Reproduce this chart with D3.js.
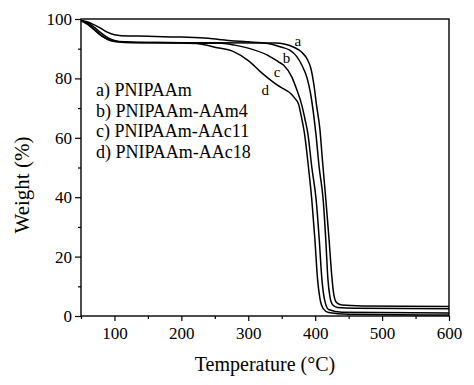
<!DOCTYPE html>
<html><head><meta charset="utf-8">
<script src="https://cdn.jsdelivr.net/npm/d3@7"></script>
<style>body{margin:0;background:#fff}svg{display:block}text{font-family:"Liberation Serif","Times New Roman",serif;fill:#000}</style>
</head><body><svg id="c" width="474" height="385"></svg>
<script>
const xTicks = [100, 200, 300, 400, 500, 600];
const yTicks = [0, 20, 40, 60, 80, 100];
const legendLabels = ["a) PNIPAAm", "b) PNIPAAm-AAm4", "c) PNIPAAm-AAc11", "d) PNIPAAm-AAc18"];
const curveNames = ["a", "b", "c", "d"];
const seriesA = [[50,99.5],[60,98.7],[70,97.2],[80,95.3],[90,93.7],[100,92.8],[115,92.3],[150,92.1],[250,92],[340,91.9],[355,91.5],[368,90.5],[380,88.8],[388,86.5],[394,83],[398,78],[402,71],[407,63],[411,52],[416,39],[421,25],[425,13],[428,7],[432,4.5],[440,3.7],[470,3.4],[600,3.2]];
const seriesB = [[50,99.5],[60,99],[70,98],[80,96.8],[90,95.5],[100,94.7],[110,94.4],[150,94.2],[200,93.9],[240,93.5],[270,92.8],[300,92.3],[320,92],[335,91.5],[350,90.5],[362,89.5],[372,87.5],[380,84.5],[388,80],[393,75],[397,69],[401,61.5],[406,50],[412,39],[416,25],[419,12.5],[422,6.5],[426,3.8],[433,2.9],[460,2.6],[600,2.4]];
const seriesC = [[50,99.5],[60,98.3],[70,96.5],[80,94.6],[90,93.2],[100,92.5],[115,92.2],[200,92],[260,91.8],[280,91.2],[300,90.2],[328,87.9],[345,85.6],[353,84.4],[365,80.5],[372,76.5],[380,71],[385,66],[389,61.5],[395,50],[401.5,39],[406,26],[410,12.5],[414,5.5],[420,2.2],[440,1.3],[600,1.0]];
const seriesD = [[50,99.5],[60,98.2],[70,96.3],[80,94.4],[90,93.1],[100,92.4],[115,92.1],[200,91.9],[228,91.6],[250,90.5],[278,89],[300,86],[318,82.3],[330,80],[343,77.8],[355,76.2],[363,75],[370,73.2],[375,71.5],[379,67.5],[384,61.5],[390,50],[395,39],[399.5,26],[403.5,12.5],[407,6],[412,2.5],[420,1.2],[450,0.6],[600,0.3]];
const series = [seriesA, seriesB, seriesC, seriesD];
const labelPos = [[374,92.6],[357,87],[343,82.2],[325.5,76]];

const svg = d3.select("#c");
const m = {l:81, t:19, r:449, b:316};
const x = d3.scaleLinear().domain([50,600]).range([m.l, m.r]);
const y = d3.scaleLinear().domain([0,100]).range([m.b, m.t]);

const xMinor = d3.range(50, 601, 50).filter(v => v % 100 !== 0);
const yMinor = d3.range(10, 100, 20);

svg.append("g").attr("transform",`translate(0,${m.b})`)
  .call(d3.axisBottom(x).tickValues(xMinor).tickSize(3).tickFormat(""))
  .call(g=>g.select(".domain").remove());
svg.append("g").attr("transform",`translate(${m.l},0)`)
  .call(d3.axisLeft(y).tickValues(yMinor).tickSize(3).tickFormat(""))
  .call(g=>g.select(".domain").remove());

const gx = svg.append("g").attr("transform",`translate(0,${m.b})`)
  .call(d3.axisBottom(x).tickValues(xTicks).tickSize(5).tickPadding(6).tickFormat(d3.format("d")));
gx.select(".domain").remove();
gx.selectAll("text").attr("font-size",17).style("font-family","Liberation Serif");
const gy = svg.append("g").attr("transform",`translate(${m.l},0)`)
  .call(d3.axisLeft(y).tickValues(yTicks).tickSize(6).tickPadding(3).tickFormat(d3.format("d")));
gy.select(".domain").remove();
gy.selectAll("text").attr("font-size",17).style("font-family","Liberation Serif");
svg.selectAll(".tick line").attr("stroke","#000").attr("stroke-width",1.2);

svg.append("rect").attr("x",m.l).attr("y",m.t).attr("width",m.r-m.l).attr("height",m.b-m.t)
  .attr("fill","none").attr("stroke","#000").attr("stroke-width",1.4);

const line = d3.line().x(d=>x(d[0])).y(d=>y(d[1])).curve(d3.curveMonotoneX);
svg.append("g").selectAll("path").data(series).join("path")
  .attr("d", line).attr("fill","none").attr("stroke","#000").attr("stroke-width",1.5);

svg.append("g").selectAll("text").data(curveNames).join("text")
  .attr("x",(d,i)=>x(labelPos[i][0])).attr("y",(d,i)=>y(labelPos[i][1]))
  .attr("font-size",15).attr("text-anchor","middle").attr("dominant-baseline","central").text(d=>d);

svg.append("g").selectAll("text").data(legendLabels).join("text")
  .attr("x",96).attr("y",(d,i)=>96+i*20.7).attr("font-size",18).text(d=>d);

svg.append("text").attr("x",(m.l+m.r)/2).attr("y",371).attr("text-anchor","middle").attr("font-size",20).text("Temperature (°C)");
svg.append("text").attr("transform","translate(29,185) rotate(-90)").attr("text-anchor","middle").attr("font-size",21).text("Weight (%)");
</script></body></html>
